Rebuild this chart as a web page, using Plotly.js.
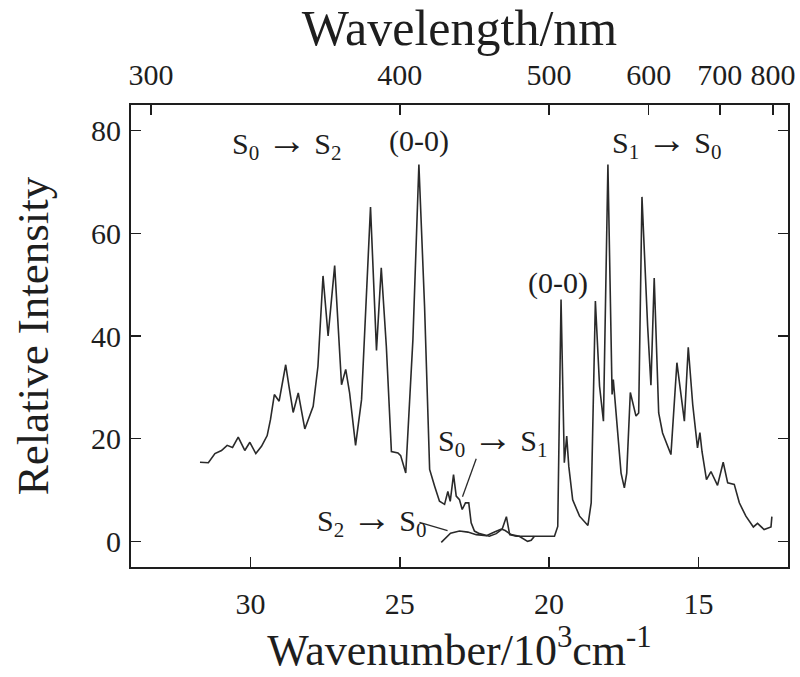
<!DOCTYPE html>
<html>
<head>
<meta charset="utf-8">
<script src="https://cdn.plot.ly/plotly-3.0.1.min.js"></script>
<style>
  body { margin: 0; background: #fff; }
  #spectrumPlot { width: 800px; height: 677px; }
</style>
</head>
<body>
<div id="spectrumPlot"></div>
<script>
/*
 * Absorption (S0 -> S2, S0 -> S1) and emission (S1 -> S0, S2 -> S0) spectrum
 * Wavenumber in 10^3 cm-1
*/
var mainWavenumber = [31.69, 31.41, 31.19, 30.97, 30.78, 30.6, 30.41, 30.19, 30.02, 29.82,
                      29.63, 29.44, 29.33, 29.2, 29.04, 28.82, 28.71, 28.57, 28.4, 28.18,
                      27.9, 27.74, 27.57, 27.4, 27.18, 26.95, 26.81, 26.68, 26.48, 26.28,
                      25.98, 25.78, 25.62, 25.45, 25.28, 25.06, 24.97, 24.8, 24.56, 24.36,
                      24.17, 24.0, 23.83, 23.67, 23.5, 23.39, 23.31, 23.2, 23.11, 23.0,
                      22.91, 22.8, 22.69, 22.61, 22.5, 22.33, 22.0, 21.77, 21.57, 21.43,
                      21.32, 21.1, 20.88, 20.54, 19.82, 19.71, 19.6, 19.49, 19.41, 19.34,
                      19.21, 18.98, 18.7, 18.59, 18.45, 18.31, 18.18, 18.03, 17.89, 17.85,
                      17.76, 17.59, 17.48, 17.4, 17.28, 17.09, 17.0, 16.89, 16.7, 16.59,
                      16.48, 16.33, 16.2, 15.92, 15.72, 15.47, 15.34, 15.19, 15.03, 14.95,
                      14.88, 14.73, 14.58, 14.36, 14.17, 14.02, 13.8, 13.63, 13.41, 13.16,
                      13.02, 12.8, 12.57, 12.54];
var mainIntensity = [15.4, 15.3, 17.1, 17.7, 18.7, 18.3, 20.3, 17.7, 19.3, 17.1,
                     18.5, 20.6, 23.7, 28.6, 27.3, 34.4, 30.2, 25.1, 28.9, 21.9,
                     26.3, 34.1, 51.7, 40.0, 53.7, 30.5, 33.5, 28.9, 18.7, 27.6,
                     65.1, 37.2, 53.3, 38.0, 17.5, 17.2, 16.7, 13.3, 39.3, 73.4,
                     45.8, 14.0, 10.7, 7.8, 7.2, 9.7, 7.8, 13.0, 8.8, 8.1,
                     6.2, 7.5, 7.5, 3.6, 2.0, 1.5, 1.0, 1.5, 2.4, 4.8,
                     1.3, 1.0, 1.0, 1.0, 1.0, 2.9, 47.1, 15.3, 20.5, 14.6,
                     8.1, 4.9, 3.1, 7.5, 46.8, 30.2, 23.4, 73.4, 28.6, 31.5,
                     25.0, 13.3, 10.4, 13.3, 29.0, 24.4, 25.0, 67.1, 41.9, 30.4,
                     51.3, 25.0, 21.1, 16.9, 34.8, 23.4, 37.8, 26.6, 18.2, 21.2,
                     17.5, 12.0, 13.6, 10.9, 15.4, 11.4, 11.1, 7.5, 4.9, 2.8,
                     3.5, 2.3, 2.8, 4.8];

//Weak S2 -> S0 emission
var s2Wavenumber = [23.61, 23.3, 23.0, 22.72, 22.44, 22.1, 21.83, 21.6, 21.47, 21.27,
                    21.0, 20.72, 20.6, 20.49];
var s2Intensity = [-0.2, 1.6, 2.0, 1.8, 1.3, 1.1, 1.8, 2.4, 2.1, 1.3,
                   1.0, 0.0, 0.2, 1.0];

var bottomTicks = [30, 25, 20, 15];
var intensityTicks = [0, 20, 40, 60, 80];
var wavelengthLabels = [300, 400, 500, 600, 700, 800];

var fontFamily = 'Liberation Serif, Times New Roman, serif';
var inkColor = '#1e1e1e';
var arrow = ' <span style="font-size:40px">→</span> ';

function serif(size){
  return {family: fontFamily, size: size, color: inkColor};
}

function wavelengthToWavenumber(nm){
  return 1e4 / nm; //10^3 cm-1
}

/*
 * Shared styling for the frame axes, ticks pointing into the plot
*/
function frameAxis(extra){
  var axis = {
    showline: true, linecolor: inkColor, linewidth: 2,
    ticks: 'inside', ticklen: 10, tickwidth: 1.6, tickcolor: inkColor,
    showgrid: false, zeroline: false,
    tickfont: serif(30)
  };
  for(var key in extra){
    axis[key] = extra[key];
  }
  return axis;
}

function buildPlot(){
  var topTickVals = [];
  var topTickText = [];
  for(var i=0; i<wavelengthLabels.length; i++){
    topTickVals.push(wavelengthToWavenumber(wavelengthLabels[i]));
    topTickText.push(String(wavelengthLabels[i]));
  }

  var data = [
    {x: mainWavenumber, y: mainIntensity, mode: 'lines', type: 'scatter',
     line: {color: '#2a2a2a', width: 1.6}},
    {x: s2Wavenumber, y: s2Intensity, mode: 'lines', type: 'scatter',
     line: {color: '#2a2a2a', width: 1.6}},
    //empty trace so the wavelength axis on top gets drawn
    {x: [], y: [], xaxis: 'x2', yaxis: 'y', mode: 'lines', type: 'scatter',
     hoverinfo: 'skip'}
  ];

  var layout = {
    width: 800, height: 677,
    margin: {l: 131, r: 12, t: 105, b: 110},
    paper_bgcolor: '#fff', plot_bgcolor: '#fff',
    showlegend: false,
    font: serif(30),
    xaxis: frameAxis({
      range: [34, 12], tickmode: 'array', tickvals: bottomTicks,
      ticklabelstandoff: 9,
      title: {text: 'Wavenumber/10<sup>3</sup>cm<sup>-1</sup>', standoff: 8,
              font: serif(44)}
    }),
    xaxis2: frameAxis({
      overlaying: 'x', side: 'top', range: [34, 12], anchor: 'y',
      tickmode: 'array', tickvals: topTickVals, ticktext: topTickText,
      ticklabelstandoff: 6,
      title: {text: 'Wavelength/nm', standoff: 13, font: serif(50)}
    }),
    yaxis: frameAxis({
      range: [-5, 85], tickmode: 'array', tickvals: intensityTicks,
      mirror: 'ticks', ticklabelstandoff: 2,
      title: {text: 'Relative Intensity', standoff: 28, font: serif(45)}
    }),
    annotations: [
      {x: 28.79, y: 77.9, text: 'S<sub>0</sub>' + arrow + 'S<sub>2</sub>'},
      {x: 24.37, y: 77.9, text: '(0-0)'},
      {x: 16.07, y: 78.1, text: 'S<sub>1</sub>' + arrow + 'S<sub>0</sub>'},
      {x: 19.69, y: 50.4, text: '(0-0)'},
      {x: 21.89, y: 20.0, text: 'S<sub>0</sub>' + arrow + 'S<sub>1</sub>'},
      {x: 25.96, y: 4.4, text: 'S<sub>2</sub>' + arrow + 'S<sub>0</sub>'}
    ].map(function(a){
      a.xref = 'x'; a.yref = 'y'; a.showarrow = false;
      a.xanchor = 'center'; a.yanchor = 'middle';
      a.font = serif(30);
      return a;
    }),
    //leader lines from the labels to the bands
    shapes: [
      {type: 'line', xref: 'x', yref: 'y', x0: 22.44, y0: 16.1, x1: 22.9, y1: 8.7,
       line: {color: '#2a2a2a', width: 1.3}},
      {type: 'line', xref: 'x', yref: 'y', x0: 24.34, y0: 3.7, x1: 23.4, y1: 2.1,
       line: {color: '#2a2a2a', width: 1.3}}
    ]
  };

  Plotly.newPlot('spectrumPlot', data, layout, {staticPlot: true});
}

window.onload = buildPlot;
</script>
</body>
</html>
